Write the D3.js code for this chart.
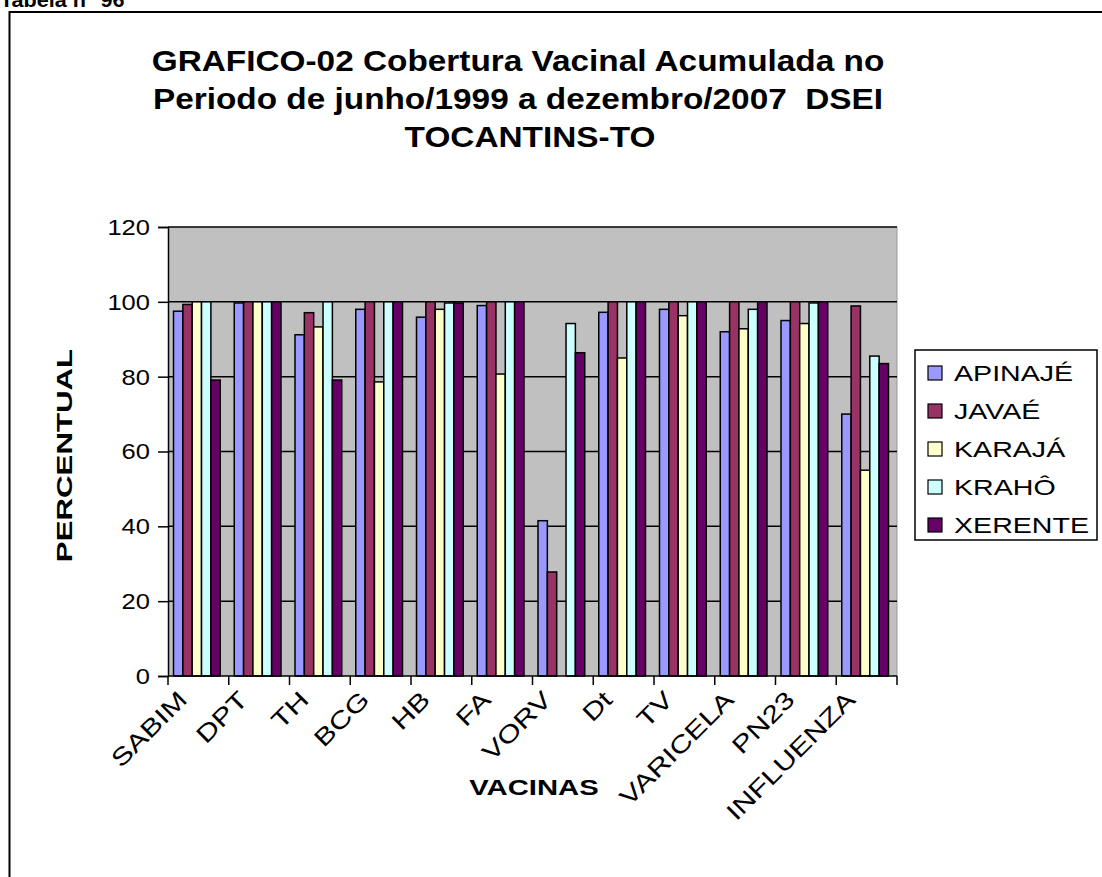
<!DOCTYPE html>
<html>
<head>
<meta charset="utf-8">
<script src="https://cdn.jsdelivr.net/npm/d3@7"></script>
<style>
  body { margin: 0; background: #fff; }
  text { font-family: Arial, "Liberation Sans", sans-serif; fill: #000; }
</style>
</head>
<body>
<script>
var width  = 1102;
var height = 877;

// vacinas
var categories = ['SABIM', 'DPT', 'TH', 'BCG', 'HB', 'FA', 'VORV', 'Dt', 'TV', 'VARICELA', 'PN23', 'INFLUENZA'];

// one array per etnia, same order as categories
var apinaje  = [97.5, 99.7, 91.2, 98.0, 95.9, 99.0, 41.5, 97.2, 98.0, 92.0, 95.0, 70.0];
var javae    = [99.3, 100,  97.1, 100,  100,  100,  27.8, 100,  100,  100,  100,  98.9];
var karaja   = [100,  100,  93.3, 78.6, 98.0, 80.7, 0,    85.0, 96.3, 92.8, 94.2, 55.0];
var kraho    = [100,  100,  100,  100,  99.7, 100,  94.2, 100,  100,  98.0, 99.7, 85.5];
var xerente  = [79.1, 100,  79.1, 100,  99.7, 100,  86.4, 100,  100,  100,  100,  83.5];

var seriesNames  = ['APINAJÉ', 'JAVAÉ', 'KARAJÁ', 'KRAHÔ', 'XERENTE'];
var seriesColors = ['#9999FF', '#993366', '#FFFFCC', '#CCFFFF', '#660066'];
var yTicks = [0, 20, 40, 60, 80, 100, 120];

var series = [apinaje, javae, karaja, kraho, xerente];

var plot = { left: 168, right: 897, top: 227, bottom: 676 };

var svg = d3.select('body')
            .append('svg')
            .attr('width', width)
            .attr('height', height);

// the excel text is wider than arial, so stretch along the text direction
function label(parent, str, x, y, opts) {
  opts = opts || {};
  var t = parent.append('text')
                .attr('transform', 'translate(' + x + ',' + y + ')' +
                                   (opts.rotate ? ' rotate(' + opts.rotate + ')' : '') +
                                   ' scale(' + (opts.sx || 1) + ',1)')
                .attr('text-anchor', opts.anchor || 'start')
                .attr('font-size', opts.size || 22)
                .attr('font-weight', opts.bold ? 'bold' : 'normal')
                .style('white-space', 'pre')
                .text(str);
  if (opts.dy) t.attr('dy', opts.dy);
  return t;
}

// table caption, cut by the top edge
label(svg, 'Tabela n° 96', 0, 7, { size: 20, bold: true, sx: 1.08 });

// chart area border (runs off right and bottom)
svg.append('rect')
   .attr('x', 9.5)
   .attr('y', 12)
   .attr('width', 1110)
   .attr('height', 880)
   .attr('fill', 'none')
   .attr('stroke', '#000')
   .attr('stroke-width', 2);

// title
var titleLines   = ['GRAFICO-02 Cobertura Vacinal Acumulada no',
                    'Periodo de junho/1999 a dezembro/2007  DSEI',
                    'TOCANTINS-TO'];
var titleCenters = [518, 518, 530];
titleLines.forEach(function(line, i){
  label(svg, line, titleCenters[i], 71 + i * 38, { size: 29, bold: true, anchor: 'middle', sx: 1.15 });
});

var x0 = d3.scaleBand()
           .domain(categories)
           .range([plot.left, plot.right])
           .padding(0);

var x1 = d3.scaleBand()
           .domain(seriesNames)
           .range([5.5, 5.5 + x0.bandwidth() / 6.5 * 5])
           .padding(0);

var y = d3.scaleLinear()
          .domain([0, 120])
          .range([plot.bottom, plot.top]);

// plot background
svg.append('rect')
   .attr('x', plot.left)
   .attr('y', plot.top)
   .attr('width', plot.right - plot.left)
   .attr('height', plot.bottom - plot.top)
   .attr('fill', '#C0C0C0');

svg.append('line')
   .attr('x1', plot.right).attr('x2', plot.right)
   .attr('y1', plot.top).attr('y2', plot.bottom)
   .attr('stroke', '#999');

// gridlines
svg.append('g')
   .selectAll('line')
   .data(yTicks.slice(1))
   .enter()
   .append('line')
   .attr('x1', plot.left)
   .attr('x2', plot.right)
   .attr('y1', function(d){ return y(d); })
   .attr('y2', function(d){ return y(d); })
   .attr('stroke', '#000')
   .attr('stroke-width', 1.5);

// bars
var groups = svg.append('g')
                .selectAll('g')
                .data(categories)
                .enter()
                .append('g')
                .attr('transform', function(d){ return 'translate(' + x0(d) + ',0)'; });

groups.selectAll('rect')
      .data(function(d, ci){
        return series.map(function(s, si){ return { name: seriesNames[si], value: s[ci], color: seriesColors[si] }; })
                     .filter(function(b){ return b.value > 0; });
      })
      .enter()
      .append('rect')
      .attr('x', function(d){ return x1(d.name); })
      .attr('y', function(d){ return y(d.value); })
      .attr('width', x1.bandwidth())
      .attr('height', function(d){ return y(0) - y(d.value); })
      .attr('fill', function(d){ return d.color; })
      .attr('stroke', '#000')
      .attr('stroke-width', 1.5);

// y axis (lines from d3, labels drawn stretched)
var yAxis = svg.append('g')
               .attr('transform', 'translate(' + plot.left + ',0)')
               .call(d3.axisLeft(y).tickValues(yTicks).tickSize(10).tickFormat(''));
yAxis.selectAll('line, path').attr('stroke', '#000').attr('stroke-width', 1.5);
var yLabels = svg.append('g');
yTicks.forEach(function(v){
  label(yLabels, String(v), 150, y(v), { size: 22, anchor: 'end', sx: 1.16, dy: '0.36em' });
});

// x axis: ticks at category boundaries
var xAxis = svg.append('g')
               .attr('transform', 'translate(0,' + plot.bottom + ')');
xAxis.append('line')
     .attr('x1', plot.left).attr('x2', plot.right)
     .attr('stroke', '#000').attr('stroke-width', 1.5);
xAxis.selectAll('line.tick')
     .data(categories.concat(['end']))
     .enter()
     .append('line')
     .attr('class', 'tick')
     .attr('x1', function(d, i){ return plot.left + i * x0.bandwidth(); })
     .attr('x2', function(d, i){ return plot.left + i * x0.bandwidth(); })
     .attr('y1', 0).attr('y2', 9)
     .attr('stroke', '#000').attr('stroke-width', 1.5);
categories.forEach(function(c){
  label(xAxis, c, x0(c) + x0.bandwidth() / 2 - 22, 13,
        { size: 24, anchor: 'end', rotate: -45, sx: 1.28, dy: '0.72em' });
});

// axis titles
label(svg, 'PERCENTUAL', 72, (plot.top + plot.bottom) / 2 + 4,
      { size: 22, bold: true, anchor: 'middle', rotate: -90, sx: 1.42 });
label(svg, 'VACINAS', 534, 795, { size: 22, bold: true, anchor: 'middle', sx: 1.33 });

// legend
var legend = svg.append('g').attr('transform', 'translate(915,350)');
legend.append('rect')
      .attr('width', 182)
      .attr('height', 190)
      .attr('fill', '#fff')
      .attr('stroke', '#000')
      .attr('stroke-width', 1.5);

seriesNames.forEach(function(name, i){
  var row = legend.append('g').attr('transform', 'translate(0,' + (23 + i * 38) + ')');
  row.append('rect')
     .attr('x', 13).attr('y', -7)
     .attr('width', 14).attr('height', 14)
     .attr('fill', seriesColors[i])
     .attr('stroke', '#000')
     .attr('stroke-width', 1.2);
  label(row, name, 39, 0, { size: 22, sx: 1.3, dy: '0.36em' });
});
</script>
</body>
</html>
